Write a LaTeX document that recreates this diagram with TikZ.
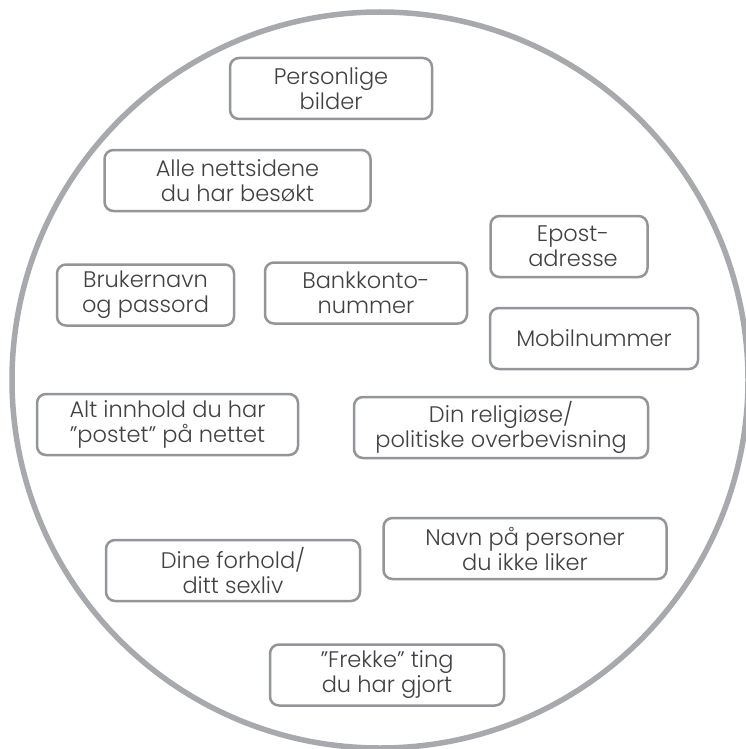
\documentclass[tikz,border=0pt]{standalone}
\usepackage{fontspec}
\setmainfont{Poppins Light}
\definecolor{ringgrey}{HTML}{A7A9AC}
\definecolor{boxgrey}{HTML}{939598}
\definecolor{textgrey}{HTML}{414042}
\begin{document}
\begin{tikzpicture}[x=1pt, y=-1pt,
infobox/.style={rectangle, rounded corners=9pt, draw=boxgrey, line width=2.5pt, fill=white, text=textgrey, align=center, inner sep=0pt, minimum height=61pt, font=\fontsize{22.5}{25}\selectfont},
]
\useasboundingbox (0,0) rectangle (745,749);
%Ring
\draw[ringgrey, line width=5.5pt] (380,380) circle (368);

%Nodes
\node[infobox, minimum width=202pt] (bilder)     at (331,88.5)  {Personlige\\bilder};
\node[infobox, minimum width=266pt] (nettsider)  at (237.5,180.5) {Alle nettsidene\\du har besøkt};
\node[infobox, minimum width=157pt] (epost)      at (569,246.5) {\hspace*{8pt}Epost-\\\hspace*{8pt}adresse};
\node[infobox, minimum width=177pt] (bruker)     at (145.5,295) {Brukernavn\\og passord};
\node[infobox, minimum width=202pt] (bank)       at (366,293)   {Bankkonto-\\nummer};
\node[infobox, minimum width=208pt] (mobil)      at (594,338.5) {Mobilnummer};
\node[infobox, minimum width=261pt] (innhold)    at (167.5,424.5) {Alt innhold du har\\"postet" på nettet};
\node[infobox, minimum width=294pt] (religion)   at (501,427.5) {Din religiøse/\\politiske overbevisning};
\node[infobox, minimum width=283pt] (personer)   at (525,548.5) {Navn på personer\\du ikke liker};
\node[infobox, minimum width=254pt] (forhold)    at (233,570.5) {Dine forhold/\\ditt sexliv};
\node[infobox, minimum width=234pt] (frekke)     at (387,675)   {"Frekke" ting\\du har gjort};

\end{tikzpicture}
\end{document}
